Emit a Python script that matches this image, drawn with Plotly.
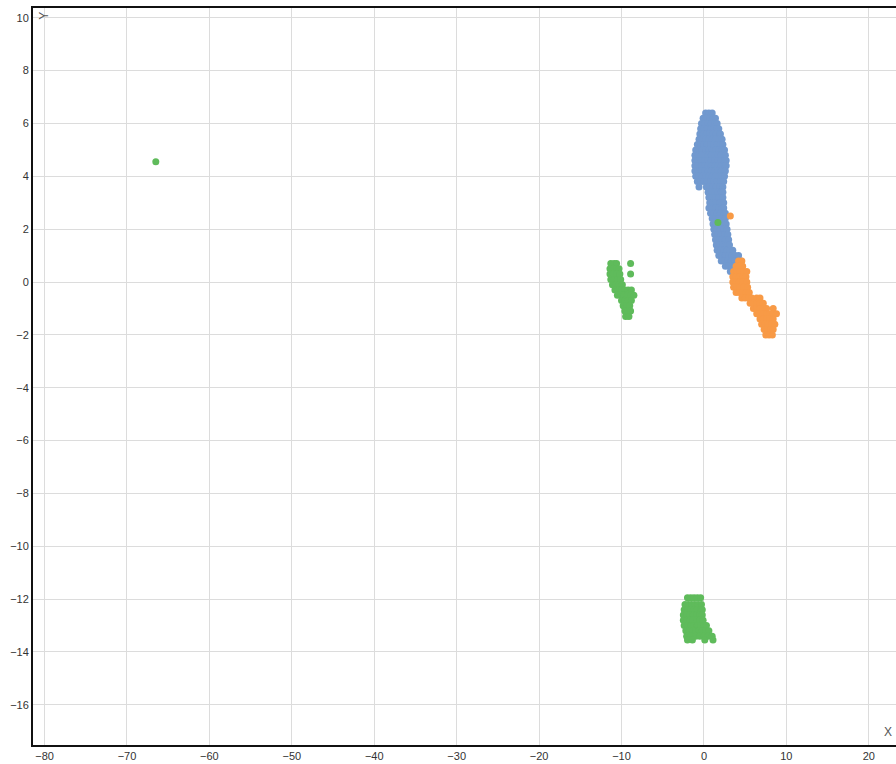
import plotly.graph_objects as go

# Point clouds, one row of x values per y level
BLUE_ROWS = [
    (6.4, [0.2, 0.6, 1.0]),
    (6.2, [-0.1, 0.3, 0.7, 1.1, 1.4]),
    (6.0, [-0.3, 0.1, 0.5, 0.9, 1.3, 1.6]),
    (5.8, [-0.4, 0.0, 0.4, 0.8, 1.2, 1.6, 1.8]),
    (5.6, [-0.5, -0.1, 0.3, 0.7, 1.1, 1.5, 1.9, 2.0]),
    (5.4, [-0.6, -0.2, 0.2, 0.6, 1.0, 1.4, 1.8, 2.2]),
    (5.2, [-0.8, -0.4, 0.0, 0.4, 0.8, 1.2, 1.6, 2.0, 2.3]),
    (5.0, [-1.0, -0.6, -0.2, 0.2, 0.6, 1.0, 1.4, 1.8, 2.2, 2.5]),
    (4.8, [-1.1, -0.7, -0.3, 0.1, 0.5, 0.9, 1.3, 1.7, 2.1, 2.6]),
    (4.6, [-1.1, -0.7, -0.3, 0.1, 0.5, 0.9, 1.3, 1.7, 2.1, 2.5, 2.7]),
    (4.4, [-1.1, -0.7, -0.3, 0.1, 0.5, 0.9, 1.3, 1.7, 2.1, 2.5, 2.7]),
    (4.2, [-1.1, -0.7, -0.3, 0.1, 0.5, 0.9, 1.3, 1.7, 2.1, 2.6]),
    (4.0, [-1.0, -0.6, -0.2, 0.2, 0.6, 1.0, 1.4, 1.8, 2.2, 2.5]),
    (3.8, [-0.8, -0.4, 0.0, 0.4, 0.8, 1.2, 1.6, 2.0, 2.4]),
    (3.6, [-0.6, 0.3, 0.7, 1.1, 1.5, 1.9, 2.3]),
    (3.4, [0.5, 0.9, 1.3, 1.7, 2.1, 2.3]),
    (3.2, [0.6, 1.0, 1.4, 1.8, 2.3]),
    (3.0, [0.7, 1.1, 1.5, 1.9, 2.4]),
    (2.8, [0.6, 1.0, 1.4, 1.8, 2.2, 2.4]),
    (2.6, [0.8, 1.2, 1.6, 2.0, 2.4, 2.6]),
    (2.4, [1.0, 1.4, 1.8, 2.2, 2.6]),
    (2.2, [1.1, 1.5, 1.9, 2.3, 2.7]),
    (2.0, [1.2, 1.6, 2.0, 2.4, 2.8]),
    (1.8, [1.3, 1.7, 2.1, 2.5, 2.9]),
    (1.6, [1.4, 1.8, 2.2, 2.6, 3.0]),
    (1.4, [1.5, 1.9, 2.3, 2.7, 3.1]),
    (1.2, [1.6, 2.0, 2.4, 2.8, 3.2, 3.5]),
    (1.0, [1.8, 2.2, 2.6, 3.0, 3.4, 3.8, 4.2]),
    (0.8, [2.1, 2.5, 2.9, 3.3, 3.7, 4.1, 4.5]),
    (0.6, [2.6, 3.0, 3.4, 3.8, 4.2]),
    (0.4, [3.2, 3.6]),
]

ORANGE_ROWS = [
    (2.5, [3.2]),
    (0.8, [4.2, 4.6]),
    (0.6, [3.9, 4.3, 4.7]),
    (0.4, [3.6, 4.0, 4.4, 4.8, 5.2]),
    (0.2, [3.5, 3.9, 4.3, 4.7, 5.1]),
    (0.0, [3.5, 3.9, 4.3, 4.7, 5.2]),
    (-0.2, [3.6, 4.0, 4.4, 4.8, 5.3]),
    (-0.4, [3.9, 4.3, 4.7, 5.1, 5.5]),
    (-0.6, [4.6, 5.0, 5.4, 5.8, 6.4, 6.8]),
    (-0.8, [5.6, 6.0, 6.4, 6.8, 7.2]),
    (-1.0, [6.0, 6.4, 6.8, 7.2, 7.6, 8.4]),
    (-1.2, [6.4, 6.8, 7.2, 7.6, 8.0, 8.4, 8.8]),
    (-1.4, [6.8, 7.2, 7.6, 8.0, 8.4]),
    (-1.6, [7.0, 7.4, 7.8, 8.2, 8.6]),
    (-1.8, [7.3, 7.7, 8.1, 8.4]),
    (-2.0, [7.5, 7.9, 8.3]),
]

GREEN_ROWS = [
    (4.55, [-66.5]),
    (2.25, [1.7]),
    (0.7, [-11.3, -10.9, -10.6, -8.9]),
    (0.5, [-11.4, -11.0, -10.6, -10.3]),
    (0.3, [-11.4, -11.0, -10.6, -10.2, -8.9]),
    (0.1, [-11.3, -10.9, -10.5, -10.1]),
    (-0.1, [-11.1, -10.7, -10.3, -9.9]),
    (-0.3, [-10.8, -10.4, -10.0, -9.6, -9.2, -8.8]),
    (-0.5, [-10.5, -10.1, -9.7, -9.3, -8.9, -8.5]),
    (-0.7, [-10.0, -9.6, -9.2, -8.8]),
    (-0.9, [-9.8, -9.4, -9.0]),
    (-1.1, [-9.6, -9.2, -8.9]),
    (-1.3, [-9.5, -9.1]),
    (-11.95, [-2.0, -1.6, -1.2, -0.8, -0.4]),
    (-12.2, [-2.3, -1.9, -1.5, -1.1, -0.7, -0.3]),
    (-12.4, [-2.4, -2.0, -1.6, -1.2, -0.8, -0.4, -0.2]),
    (-12.6, [-2.5, -2.1, -1.7, -1.3, -0.9, -0.5, -0.2]),
    (-12.8, [-2.5, -2.1, -1.7, -1.3, -0.9, -0.5, -0.1]),
    (-13.0, [-2.4, -2.0, -1.6, -1.2, -0.8, -0.4, 0.0, 0.3]),
    (-13.2, [-2.2, -1.8, -1.4, -1.0, -0.6, -0.2, 0.2, 0.6]),
    (-13.4, [-2.1, -1.6, -1.0, -0.5, 0.0, 0.5, 1.0]),
    (-13.55, [-2.0, -1.4, 0.1, 1.1]),
]

X_TICKS = [-80, -70, -60, -50, -40, -30, -20, -10, 0, 10, 20]
Y_TICKS = [-16, -14, -12, -10, -8, -6, -4, -2, 0, 2, 4, 6, 8, 10]

SERIES = [
    ("blue", BLUE_ROWS, "#7199cf"),
    ("orange", ORANGE_ROWS, "#f89a46"),
    ("green", GREEN_ROWS, "#5fbb5b"),
]


def flatten(rows):
    xs, ys = [], []
    for y, row in rows:
        for x in row:
            xs.append(x)
            ys.append(y)
    return xs, ys


fig = go.Figure()
for name, rows, color in SERIES:
    xs, ys = flatten(rows)
    fig.add_trace(go.Scatter(
        x=xs, y=ys, mode="markers", name=name,
        marker=dict(size=7, color=color, line=dict(width=0)),
        hoverinfo="x+y",
    ))

axis_font = dict(family="Liberation Sans, Arial, sans-serif", size=11, color="#333333")

fig.update_layout(
    width=896, height=764,
    margin=dict(l=33, r=0, t=8, b=19),
    plot_bgcolor="white", paper_bgcolor="white",
    showlegend=False,
    xaxis=dict(
        range=[-81.4, 23.3], tickvals=X_TICKS, ticks="", tickfont=axis_font,
        showgrid=True, gridcolor="#dcdcdc", gridwidth=1, zeroline=False,
        showline=True, linecolor="#111111", linewidth=2, mirror=True,
    ),
    yaxis=dict(
        range=[-17.52, 10.37], tickvals=Y_TICKS, ticks="", tickfont=axis_font,
        showgrid=True, gridcolor="#dcdcdc", gridwidth=1, zeroline=False,
        showline=True, linecolor="#111111", linewidth=2, mirror=False,
    ),
    annotations=[
        dict(text="Y", xref="paper", yref="paper", x=0.003, y=0.989,
             xanchor="left", yanchor="middle", textangle=-90, showarrow=False,
             font=dict(family="Liberation Sans, Arial, sans-serif", size=12, color="#555555")),
        dict(text="X", xref="paper", yref="paper", x=0.998, y=0.005,
             xanchor="right", yanchor="bottom", showarrow=False,
             font=dict(family="Liberation Sans, Arial, sans-serif", size=12, color="#555555")),
    ],
)

fig.write_html("out.html")
